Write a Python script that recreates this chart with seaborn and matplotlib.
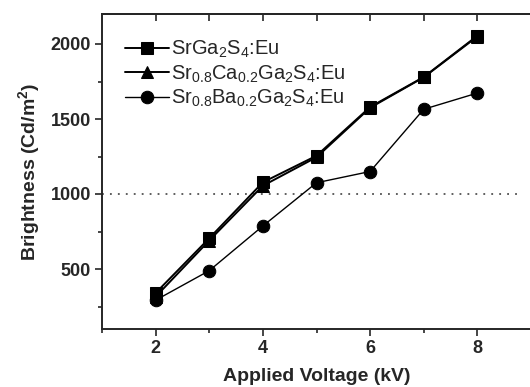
import matplotlib
matplotlib.use("Agg")
import matplotlib.pyplot as plt
import seaborn as sns
import pandas as pd
from matplotlib.ticker import MultipleLocator

voltage = [2, 3, 4, 5, 6, 7, 8]
srga = [340, 705, 1078, 1255, 1580, 1780, 2055]
srca = [315, 690, 1055, 1245, 1575, 1778, 2050]
srba = [292, 489, 787, 1075, 1150, 1565, 1673]
labels = [r"SrGa$_2$S$_4$:Eu",
          r"Sr$_{0.8}$Ca$_{0.2}$Ga$_2$S$_4$:Eu",
          r"Sr$_{0.8}$Ba$_{0.2}$Ga$_2$S$_4$:Eu"]
xticks = [2, 4, 6, 8]
yticks = [500, 1000, 1500, 2000]

sns.set_style("ticks")
plt.rcParams["font.family"] = ["Liberation Sans", "DejaVu Sans"]
plt.rcParams["mathtext.fontset"] = "custom"
plt.rcParams["mathtext.rm"] = "Liberation Sans"
plt.rcParams["mathtext.default"] = "regular"

df = pd.concat([
    pd.DataFrame({"V": voltage, "B": s, "series": lab})
    for s, lab in zip([srga, srca, srba], labels)
])

fig = plt.figure(figsize=(5.30, 3.87), dpi=100)
W, H = 530, 387
ax = fig.add_axes([102 / W, (H - 329) / H, (531 - 102) / W, (329 - 14) / H])

markers = {labels[0]: "s", labels[1]: "^", labels[2]: "o"}
sizes = {labels[0]: 8, labels[1]: 9, labels[2]: 9}
lws = {labels[0]: 1.4, labels[1]: 1.4, labels[2]: 1.0}
for lab in labels:
    sub = df[df["series"] == lab]
    sns.lineplot(data=sub, x="V", y="B", ax=ax, color="black",
                 marker=markers[lab], markersize=sizes[lab],
                 markeredgecolor="black", linewidth=lws[lab], label=lab,
                 legend=True)

ax.axhline(1000, xmin=0, xmax=(520 - 102) / (531 - 102), color="#333333",
           linestyle=(0, (1.2, 4)), linewidth=1.1, zorder=0)

ax.set_xlim(1, 9)
ax.set_ylim(100, 2200)
ax.set_xticks(xticks)
ax.set_yticks(yticks)
ax.xaxis.set_minor_locator(MultipleLocator(1))
ax.yaxis.set_minor_locator(MultipleLocator(250))
ax.tick_params(which="major", direction="out", length=5, width=1.2,
               labelsize=13, pad=3)
ax.tick_params(which="minor", direction="out", length=3, width=1.2)
for t in ax.get_xticklabels() + ax.get_yticklabels():
    t.set_fontweight("bold")

top = ax.secondary_xaxis("top")
top.set_xticks([2, 3, 4, 5, 6, 7, 8])
top.tick_params(direction="in", length=5, width=1.2, labeltop=False)
top.spines["top"].set_linewidth(1.4)

for s in ["left", "bottom", "top"]:
    ax.spines[s].set_linewidth(1.4)
ax.spines["right"].set_visible(False)

ax.set_xlabel("Applied Voltage (kV)", fontsize=14, fontweight="bold", labelpad=8)
ax.set_ylabel(r"Brightness (Cd/m$^2$)", fontsize=14, fontweight="bold", labelpad=6)

leg = ax.legend(loc="upper left", frameon=False, fontsize=14.5,
                handlelength=2.2, handletextpad=0.1, labelspacing=0.15,
                borderaxespad=0.3, bbox_to_anchor=(0.02, 0.965))

fig.savefig("out.png", dpi=100, facecolor="white")
